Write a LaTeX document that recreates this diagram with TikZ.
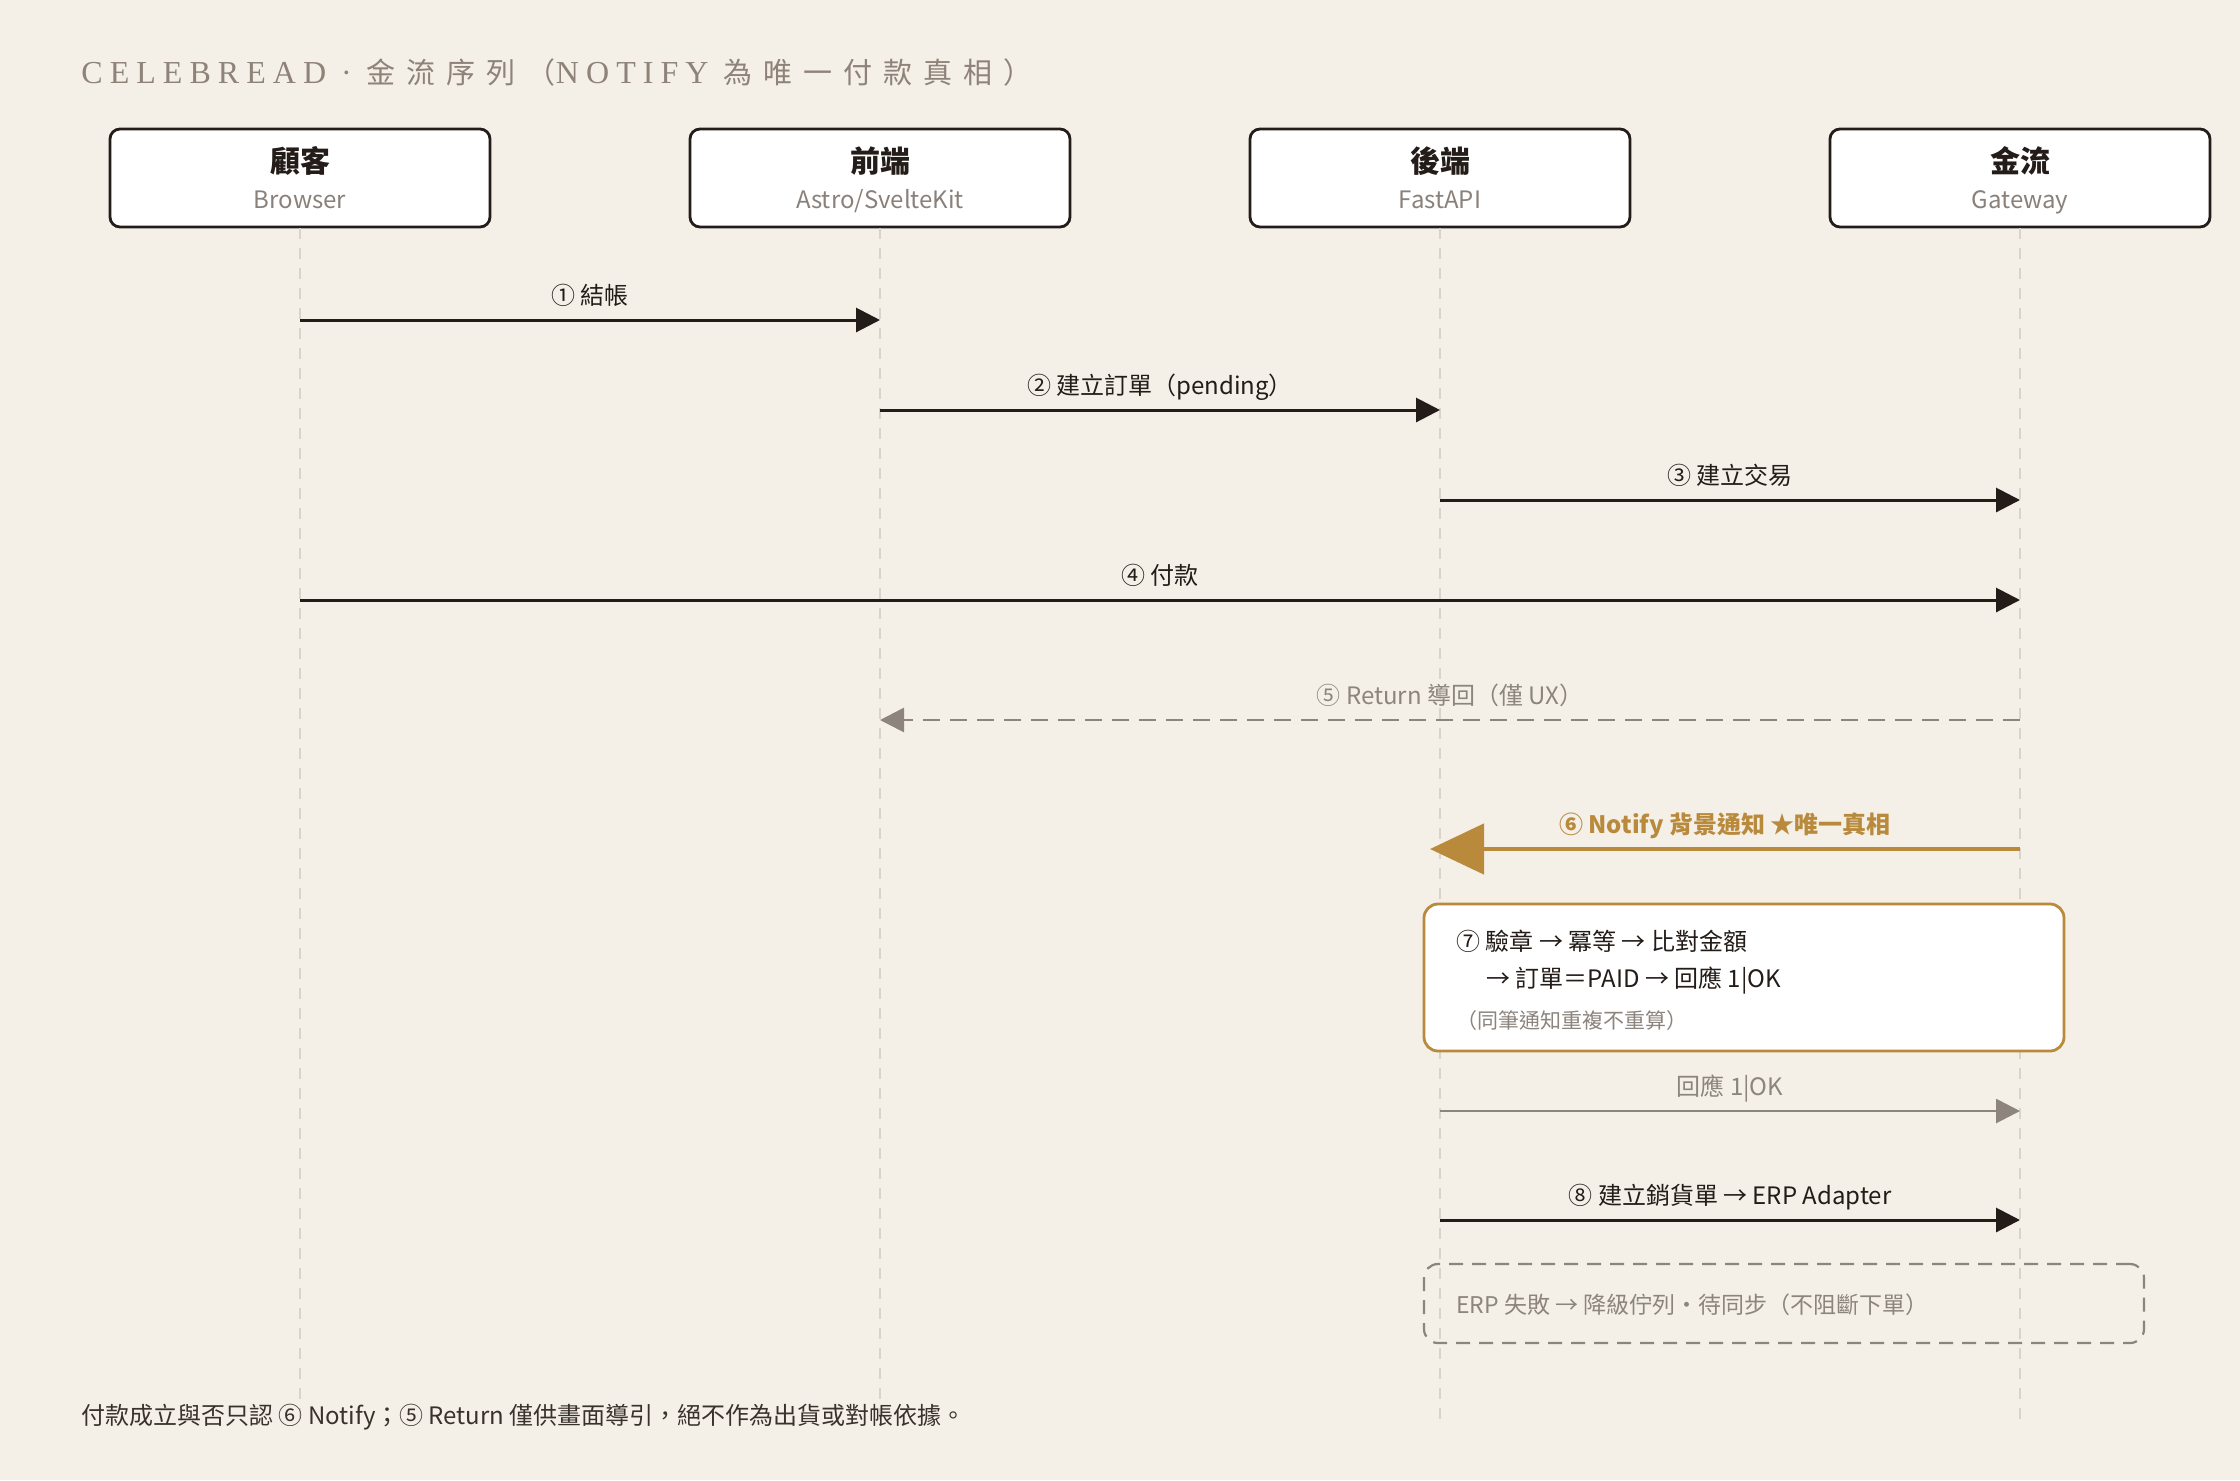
\documentclass[tikz,border=0pt]{standalone}
\usepackage{fontspec}
\setmainfont{Noto Sans CJK TC}
\newfontfamily\titleserif[LetterSpace=22]{Liberation Serif}
\newfontfamily\titlecjk[LetterSpace=38]{Noto Sans CJK TC}
\usetikzlibrary{arrows.meta}
\definecolor{bgc}{HTML}{F4F0E8}
\definecolor{ink}{HTML}{231C19}
\definecolor{titlec}{HTML}{8E8279}
\definecolor{subc}{HTML}{8A817A}
\definecolor{lifec}{HTML}{D9D3CB}
\definecolor{greyc}{HTML}{8C847D}
\definecolor{goldc}{HTML}{B98A3C}
\definecolor{notec}{HTML}{3A312C}
\tikzset{
  hdr/.style={draw=ink, line width=1.4pt, fill=white, rounded corners=5pt, minimum width=190pt, minimum height=49pt},
  hdrt/.style={font=\fontsize{15}{18}\selectfont\bfseries, text=ink, inner sep=0pt},
  hdrs/.style={font=\fontsize{12}{14}\selectfont, text=subc, inner sep=0pt, text height=8.5pt, text depth=1.5pt},
  lifeline/.style={draw=lifec, line width=1pt, dash pattern=on 5.5pt off 4.5pt},
  msg/.style={draw=ink, line width=1.5pt, -{Triangle[length=12pt,width=12pt]}},
  greymsg/.style={draw=greyc, line width=1.4pt, -{Triangle[length=12pt,width=12pt]}},
  retmsg/.style={draw=greyc, line width=1.4pt, dash pattern=on 8.5pt off 5pt, -{Triangle[length=12pt,width=12pt]}},
  goldmsg/.style={draw=goldc, line width=2.4pt, -{Triangle[length=27pt,width=25pt]}},
  lblbase/.style={font=\fontsize{12}{14}\selectfont, text=ink, inner sep=0pt, text height=10.5pt, text depth=1.5pt},
  lbl/.style={lblbase, above=5.5pt},
  greylbl/.style={lbl, text=greyc},
  goldlbl/.style={lblbase, font=\fontsize{12}{14}\selectfont\bfseries, text=goldc, above=5pt},
  stepbox/.style={draw=goldc, line width=1.4pt, fill=white, rounded corners=7pt},
  erpbox/.style={draw=greyc, line width=1.1pt, dash pattern=on 7pt off 4.5pt, rounded corners=7pt},
  boxtxt/.style={font=\fontsize{12}{14}\selectfont, text=ink, inner sep=0pt, anchor=west},
  boxnote/.style={font=\fontsize{10.5}{13}\selectfont, text=greyc, inner sep=0pt, anchor=west},
}
\begin{document}
\begin{tikzpicture}[x=0.5pt,y=-0.5pt]
\fill[bgc] (0,0) rectangle (2240,1480);
\useasboundingbox (0,0) rectangle (2240,1480);

% title
\node[anchor=west, inner sep=0pt, text=titlec] (title) at (81,72)
  {{\titleserif\fontsize{16}{18}\selectfont CELEBREAD · }{\titlecjk\fontsize{14.5}{18}\selectfont 金流序列（}{\titleserif\fontsize{16}{18}\selectfont NOTIFY }{\titlecjk\fontsize{14.5}{18}\selectfont 為唯一付款真相）}};

% headers
\node[hdr] (hA) at (300,178) {};
\node[hdr] (hB) at (880,178) {};
\node[hdr] (hC) at (1440,178) {};
\node[hdr] (hD) at (2020,178) {};
\node[hdrt] (hAt) at (300,161) {顧客};
\node[hdrs] (hAs) at (300,201) {Browser};
\node[hdrt] (hBt) at (880,161) {前端};
\node[hdrs] (hBs) at (880,201) {Astro/SvelteKit};
\node[hdrt] (hCt) at (1440,161) {後端};
\node[hdrs] (hCs) at (1440,201) {FastAPI};
\node[hdrt] (hDt) at (2020,161) {金流};
\node[hdrs] (hDs) at (2020,201) {Gateway};

% lifelines
\coordinate (eA) at (300,1421);
\coordinate (eB) at (880,1421);
\coordinate (eC) at (1440,1421);
\coordinate (eD) at (2020,1421);
\draw[lifeline] (hA.south) -- (eA);
\draw[lifeline] (hB.south) -- (eB);
\draw[lifeline] (hC.south) -- (eC);
\draw[lifeline] (hD.south) -- (eD);

% message points
\coordinate (m1a) at (300,320);  \coordinate (m1b) at (880,320);
\coordinate (m2a) at (880,410);  \coordinate (m2b) at (1440,410);
\coordinate (m3a) at (1440,500); \coordinate (m3b) at (2020,500);
\coordinate (m4a) at (300,600);  \coordinate (m4b) at (2020,600);
\coordinate (m5a) at (2020,720); \coordinate (m5b) at (880,720);
\coordinate (m6a) at (2020,849); \coordinate (m6b) at (1430,849);
\coordinate (m7a) at (1440,1111); \coordinate (m7b) at (2020,1111);
\coordinate (m8a) at (1440,1220); \coordinate (m8b) at (2020,1220);

\draw[msg] (m1a) -- node[lbl] (l1) {① 結帳} (m1b);
\draw[msg] (m2a) -- node[lbl] (l2) {② 建立訂單（pending）} (m2b);
\draw[msg] (m3a) -- node[lbl] (l3) {③ 建立交易} (m3b);
\draw[msg] (m4a) -- node[lbl] (l4) {④ 付款} (m4b);
\draw[retmsg] (m5a) -- node[greylbl] (l5) {⑤ Return 導回（僅 UX）} (m5b);
\draw[goldmsg] (m6a) -- node[goldlbl, pos=0.5] (l6) {⑥ Notify 背景通知 ★唯一真相} (m6b);

% step 7 box
\node[stepbox, minimum width=320pt, minimum height=73.5pt] (s7) at (1744,977.5) {};
\node[boxtxt] (s7a) at (1456,941) {⑦ 驗章 → 冪等 → 比對金額};
\node[boxtxt] (s7b) at (1486,981) {→ 訂單＝PAID → 回應 1|OK};
\node[boxnote] (s7c) at (1456,1021) {（同筆通知重複不重算）};

\draw[greymsg] (m7a) -- node[greylbl] (l7) {回應 1|OK} (m7b);
\draw[msg] (m8a) -- node[lbl] (l8) {⑧ 建立銷貨單 → ERP Adapter} (m8b);

% ERP box
\node[erpbox, minimum width=360pt, minimum height=39.5pt] (erp) at (1784,1303.5) {};
\node[boxnote, font=\fontsize{11.5}{13}\selectfont] (erpt) at (1456,1305) {ERP 失敗 → 降級佇列・待同步（不阻斷下單）};

% footnote
\node[anchor=west, inner sep=0pt, text=notec, font=\fontsize{12}{14}\selectfont] (foot) at (81,1417)
  {付款成立與否只認 ⑥ Notify；⑤ Return 僅供畫面導引，絕不作為出貨或對帳依據。};
\end{tikzpicture}
\end{document}
